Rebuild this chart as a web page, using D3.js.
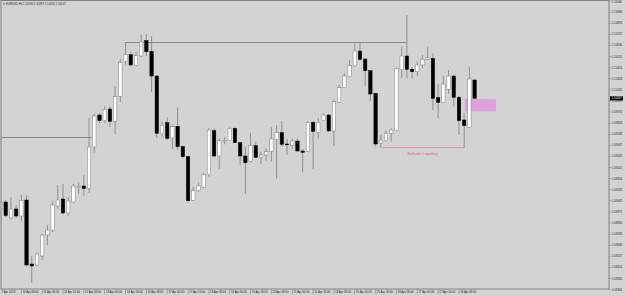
<!DOCTYPE html>
<html>
<head>
<meta charset="utf-8">
<script src="https://cdn.jsdelivr.net/npm/d3@7"></script>
<style>
  html, body { margin: 0; padding: 0; background: #d3d3d3; }
  svg { display: block; }
</style>
</head>
<body>
<script>
const w = 625;
const h = 296;

// EURUSD H4, one entry per bar (7 Apr 16:00 .. 28 Apr 20:00)
const open = [1.09000,1.09070,1.08910,1.09000,1.08930,1.09090,1.08450,1.08440,1.08530,1.08740,
    1.08790,1.09030,1.09100,1.08960,1.09070,1.09215,1.09230,1.09205,1.09620,1.09940,
    1.09883,1.10000,1.09877,1.10127,1.10477,1.10543,1.10437,1.10530,1.10683,1.10577,
    1.10330,1.09753,1.09863,1.09710,1.09827,1.09623,1.09523,1.09087,1.09183,1.09217,
    1.09343,1.09783,1.09530,1.09675,1.09683,1.09807,1.09663,1.09530,1.09473,1.09633,
    1.09517,1.09540,1.09577,1.09697,1.09763,1.09650,1.09633,1.09680,1.09580,1.09577,
    1.09867,1.09767,1.09883,1.09940,1.09780,1.10067,1.10213,1.10323,1.10430,1.10580,
    1.10500,1.10383,1.10157,1.09657,1.09683,1.09757,1.09783,1.10397,1.10530,1.10397,
    1.10373,1.10440,1.10497,1.10507,1.10113,1.10063,1.10197,1.10330,1.10117,1.09890,
    1.09817,1.10290];
const high = [1.09120,1.09090,1.09120,1.09040,1.09140,1.09140,1.08530,1.08560,1.08750,1.08840,
    1.09075,1.09240,1.09250,1.09120,1.09250,1.09265,1.09340,1.09910,1.09950,1.09960,
    1.10030,1.10030,1.10230,1.10500,1.10667,1.10573,1.10573,1.10740,1.10750,1.10730,
    1.10340,1.09873,1.09917,1.09840,1.10017,1.09630,1.09533,1.09223,1.09263,1.09363,
    1.09807,1.09807,1.09707,1.09717,1.09817,1.09817,1.09670,1.09623,1.09763,1.09673,
    1.09573,1.09607,1.09817,1.09840,1.09880,1.09700,1.09707,1.09700,1.09600,1.09880,
    1.09880,1.09907,1.09957,1.09950,1.10097,1.10240,1.10357,1.10490,1.10657,1.10660,
    1.10510,1.10390,1.10160,1.09740,1.09790,1.09807,1.10413,1.10623,1.10940,1.10420,
    1.10473,1.10540,1.10623,1.10557,1.10250,1.10330,1.10390,1.10340,1.10130,1.09957,
    1.10423,1.10297];
const low = [1.08970,1.08920,1.08900,1.08910,1.08880,1.08420,1.08260,1.08430,1.08490,1.08640,
    1.08770,1.09000,1.08950,1.08930,1.09060,1.09150,1.09130,1.09160,1.09560,1.09860,
    1.09860,1.09820,1.09750,1.10070,1.10443,1.10433,1.10430,1.10520,1.10530,1.10170,
    1.09710,1.09717,1.09690,1.09597,1.09590,1.09507,1.09067,1.09080,1.09167,1.09207,
    1.09323,1.09523,1.09400,1.09647,1.09680,1.09660,1.09440,1.09150,1.09467,1.09510,
    1.09450,1.09477,1.09473,1.09307,1.09623,1.09540,1.09600,1.09577,1.09367,1.09575,
    1.09397,1.09707,1.09880,1.09773,1.09630,1.10060,1.10210,1.10320,1.10423,1.10480,
    1.10230,1.10080,1.09623,1.09617,1.09680,1.09673,1.09780,1.10307,1.10307,1.10307,
    1.10333,1.10407,1.10490,1.09990,1.09907,1.10060,1.10157,1.10023,1.09740,1.09610,
    1.09815,1.10105];
const close = [1.09070,1.08935,1.09000,1.08930,1.09085,1.08440,1.08430,1.08550,1.08740,1.08790,
    1.09040,1.09090,1.08960,1.09080,1.09230,1.09225,1.09205,1.09620,1.09930,1.09885,
    1.09997,1.09877,1.10123,1.10467,1.10543,1.10440,1.10533,1.10670,1.10573,1.10330,
    1.09757,1.09837,1.09707,1.09823,1.09623,1.09523,1.09083,1.09183,1.09230,1.09343,
    1.09790,1.09530,1.09683,1.09685,1.09807,1.09663,1.09530,1.09463,1.09633,1.09517,
    1.09540,1.09573,1.09700,1.09763,1.09647,1.09643,1.09680,1.09580,1.09567,1.09867,
    1.09777,1.09867,1.09940,1.09780,1.10073,1.10213,1.10330,1.10433,1.10580,1.10497,
    1.10383,1.10150,1.09650,1.09690,1.09757,1.09790,1.10407,1.10530,1.10397,1.10373,
    1.10440,1.10497,1.10513,1.10107,1.10067,1.10250,1.10330,1.10117,1.09883,1.09833,
    1.10300,1.10107];

// time axis
const time_labels = ["7 Apr 2023","10 Apr 08:00","11 Apr 00:00","11 Apr 16:00","12 Apr 08:00",
    "13 Apr 00:00","13 Apr 16:00","14 Apr 08:00","17 Apr 00:00","17 Apr 16:00","18 Apr 08:00",
    "19 Apr 00:00","19 Apr 16:00","20 Apr 08:00","21 Apr 00:00","21 Apr 16:00","24 Apr 08:00",
    "25 Apr 00:00","25 Apr 16:00","26 Apr 08:00","27 Apr 00:00","27 Apr 16:00","28 Apr 08:00"];
const time_index = [0,4,8,12,16,20,24,28,32,36,40,44,48,52,56,60,64,68,72,76,80,84,88];

// price axis
const price_ticks = [1.11080,1.10969,1.10858,1.10747,1.10636,1.10525,1.10414,1.10303,1.10192,
    1.10081,1.09970,1.09859,1.09748,1.09637,1.09526,1.09415,1.09304,1.09193,1.09082,1.08971,
    1.08860,1.08749,1.08638,1.08527,1.08416,1.08305,1.08194];

const symbol = "EURUSD,H4";

// drawn objects: [bar from, bar to, price]
const levels = [[-0.1, 17.6, 1.09717], [24, 78, 1.10667]];
const sellside = [73, 89, 1.09617];
const zone = {x0: 89.15, x1: 95.1, p0: 1.10100, p1: 1.09977};

////  Canvas  ////
const svg = d3.select("body").append("svg").attr("width", w).attr("height", h);
svg.append("rect").attr("width", w).attr("height", h).attr("fill", "#d3d3d3");

const right = 609, bottom = 289;
const fnt = "Liberation Sans, Arial, sans-serif";
const small = "2.8px";   // tiny terminal font
const ink = "#1e1e1e";

const x = d3.scaleLinear().domain([0, open.length - 1]).range([0.5, 474.6]);
const y = d3.scaleLinear().domain([1.0820, 1.1108]).range([bottom, 1]);

const bars = open.map((o, i) => ({i, o, h: high[i], l: low[i], c: close[i]}));

const plot = svg.append("g");
plot.append("clipPath").attr("id", "clip")
    .append("rect").attr("x", 1).attr("y", 0.5).attr("width", right - 1).attr("height", bottom - 0.5);
const inner = plot.append("g").attr("clip-path", "url(#clip)");

// lines
inner.selectAll("line.level")
    .data(levels)
    .enter()
    .append("line")
    .attr("class", "level")
    .attr("x1", d => x(d[0]))
    .attr("x2", d => x(d[1]))
    .attr("y1", d => Math.round(y(d[2])) + 0.5)
    .attr("y2", d => Math.round(y(d[2])) + 0.5)
    .attr("stroke", "#8a8a8a")
    .attr("stroke-width", 1);

inner.append("line")
    .attr("x1", x(sellside[0]))
    .attr("x2", x(sellside[1]))
    .attr("y1", Math.round(y(sellside[2])) + 0.5)
    .attr("y2", Math.round(y(sellside[2])) + 0.5)
    .attr("stroke", "#e39aa8")
    .attr("stroke-width", 1);

inner.append("text")
    .attr("x", x((sellside[0] + sellside[1]) / 2))
    .attr("y", y(sellside[2]) + 8)
    .attr("text-anchor", "middle")
    .attr("font-family", fnt)
    .attr("font-size", "4.1px")
    .attr("fill", "#e0667e")
    .text("Sellside Liquidity");

inner.append("rect")
    .attr("x", x(zone.x0))
    .attr("y", y(zone.p0))
    .attr("width", x(zone.x1) - x(zone.x0))
    .attr("height", y(zone.p1) - y(zone.p0))
    .attr("fill", "#dda0dd");

// candles
const candle = inner.selectAll("g.bar")
    .data(bars)
    .enter()
    .append("g")
    .attr("class", "bar");
candle.append("line")
    .attr("x1", d => x(d.i))
    .attr("x2", d => x(d.i))
    .attr("y1", d => y(d.h))
    .attr("y2", d => y(d.l))
    .attr("stroke", "#7d7d7d")
    .attr("stroke-width", 0.8);
candle.append("rect")
    .attr("x", d => x(d.i) - 1.7)
    .attr("width", 3.4)
    .attr("y", d => y(Math.max(d.o, d.c)))
    .attr("height", d => Math.max(0.8, Math.abs(y(d.o) - y(d.c))))
    .attr("fill", d => d.c >= d.o ? "#ffffff" : "#000000")
    .attr("stroke", d => d.c >= d.o ? "#7d7d7d" : "#000000")
    .attr("stroke-width", 0.5);

////  Frame & axes  ////
svg.append("rect")
    .attr("x", 1).attr("y", 0.5)
    .attr("width", right - 1).attr("height", bottom - 0.5)
    .attr("fill", "none")
    .attr("stroke", "#808080")
    .attr("stroke-width", 1);

const py = svg.append("g");
py.selectAll("line")
    .data(price_ticks)
    .enter()
    .append("line")
    .attr("x1", right).attr("x2", right + 2.5)
    .attr("y1", d => y(d)).attr("y2", d => y(d))
    .attr("stroke", "#808080")
    .attr("stroke-width", 0.6);
py.selectAll("text")
    .data(price_ticks)
    .enter()
    .append("text")
    .attr("x", right + 3)
    .attr("y", d => Math.max(2.6, y(d) + 1))
    .attr("font-family", fnt)
    .attr("font-size", small)
    .attr("fill", ink)
    .text(d => d.toFixed(5));

// current price tag
const last = close[close.length - 1];
svg.append("rect")
    .attr("x", right + 1).attr("y", y(last) - 2.1)
    .attr("width", 13).attr("height", 4.2)
    .attr("fill", "#000");
svg.append("text")
    .attr("x", right + 2.5)
    .attr("y", y(last) + 1)
    .attr("font-family", fnt)
    .attr("font-size", small)
    .attr("fill", "#fff")
    .text(last.toFixed(5));

const tx = svg.append("g");
tx.selectAll("line")
    .data(time_index.slice(1))
    .enter()
    .append("line")
    .attr("x1", d => x(d)).attr("x2", d => x(d))
    .attr("y1", bottom).attr("y2", bottom + 5)
    .attr("stroke", "#808080")
    .attr("stroke-width", 0.6);
tx.selectAll("text")
    .data(time_labels)
    .enter()
    .append("text")
    .attr("x", (d, i) => x(time_index[i]) + 1.2)
    .attr("y", bottom + 4.4)
    .attr("font-family", fnt)
    .attr("font-size", small)
    .attr("fill", ink)
    .text(d => d);

// symbol line
const info = "\u25BC " + symbol + "  " + [open, high, low, close].map(a => a[a.length - 1].toFixed(5)).join(" ");
svg.append("text")
    .attr("x", 2.5)
    .attr("y", 4.6)
    .attr("font-family", fnt)
    .attr("font-size", small)
    .attr("fill", ink)
    .text(info);
</script>
</body>
</html>
